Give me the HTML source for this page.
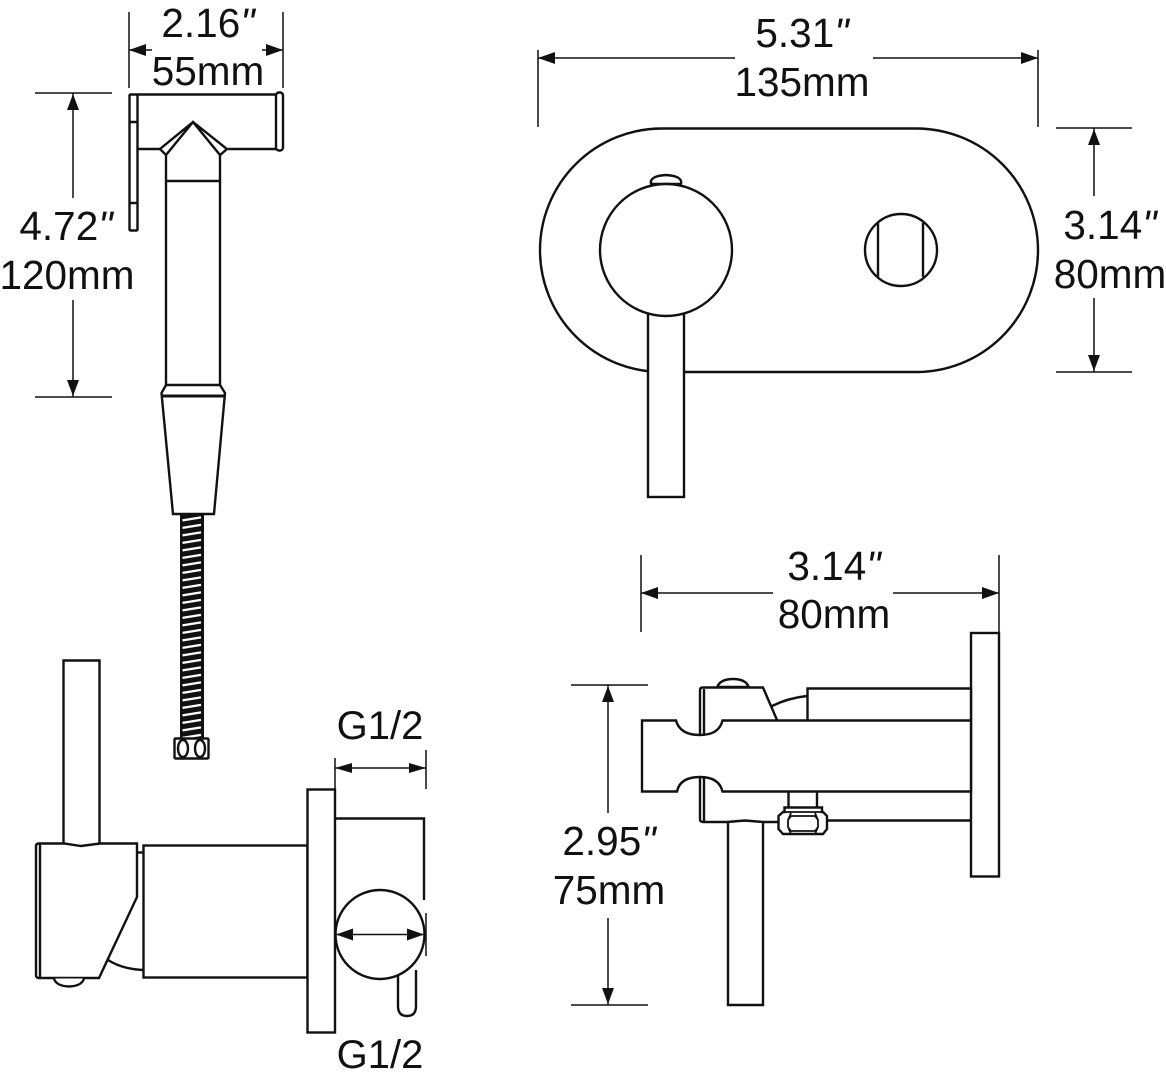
<!DOCTYPE html>
<html><head><meta charset="utf-8"><style>
html,body{margin:0;padding:0;background:#fff;overflow:hidden}
svg{display:block}
text{font-family:"Liberation Sans",sans-serif;font-size:40.5px;fill:#111;text-anchor:middle}
.q{font-style:italic}
.l{fill:none;stroke:#111;stroke-width:2.4}
.w{fill:#fff;stroke:#111;stroke-width:2.4}
.d{fill:none;stroke:#111;stroke-width:1.5}
.a{fill:#111;stroke:none}
</style></head><body>
<svg width="1166" height="1074" viewBox="0 0 1166 1074" xmlns="http://www.w3.org/2000/svg">
<defs>
<pattern id="h" width="24" height="7.5" patternUnits="userSpaceOnUse" x="180" y="515">
<rect width="24" height="7.5" fill="#111"/>
<line x1="2.500" y1="5.400" x2="21" y2="2.400" stroke="#fff" stroke-width="2.300"/>
</pattern>
</defs>

<!-- top-left dimensions -->
<path class="d" d="M129 12V88M283 12V88M129 50H152M262 50H283M35 93H112M35 397H112M73 93V198M73 300V397"/>
<path class="a" d="M129 50l17-6v12zM283 50l-17-6v12zM73 94l-6 16h12zM73 396l-6-16h12z"/>
<text x="208" y="37">2.16<tspan class="q">"</tspan></text>
<text x="208" y="85">55mm</text>
<text x="66" y="240">4.72<tspan class="q">"</tspan></text>
<text x="67" y="289">120mm</text>

<!-- sprayer -->
<path class="l" d="M137 94.500H276M138 149H160M228 149H276"/>
<rect class="w" x="129.500" y="94.500" width="8" height="136" rx="1"/>
<path class="l" d="M130 122H137M130 203H137"/>
<rect class="w" x="276" y="92.500" width="7" height="58" rx="3"/>
<path class="l" d="M193 122L160 149L166 155L193 122L220 155L227 149L193 122"/>
<path class="l" d="M166 155V386M220 155V386M166 181H220"/>
<path class="l" d="M166 385H220L225 393L214 514H173L161.500 393Z"/>
<path class="l" style="stroke-width:3" d="M162 396H225"/>
<rect x="180" y="515" width="24" height="224" fill="url(#h)"/>
<rect class="w" x="174.500" y="738.500" width="34" height="20" rx="1"/>
<ellipse class="l" cx="183" cy="748.500" rx="5" ry="8.500"/>
<ellipse class="l" cx="200" cy="748.500" rx="5" ry="8.500"/>

<!-- bottom-left view -->
<path class="l" d="M63.500 843V660.500H99.500V843"/>
<path class="w" d="M39 843.500H64L81 846L100 843.500H137V897L99 978H39Q36 978 36 975V846Q36 843.500 39 843.500Z"/>
<path class="l" d="M40 844V978"/>
<path class="l" d="M137 852.500H143"/>
<path class="l" d="M108 960Q122 969 143 970"/>
<path class="w" d="M54 978.500Q56 986 69 986.500Q82 986 84 978.500"/>
<rect class="w" x="143.500" y="845.500" width="164" height="132"/>
<rect class="w" x="307.500" y="789.500" width="27.500" height="243"/>
<path class="l" d="M335 818.500H424V900"/>
<path class="w" d="M398 975V1006Q398 1016 407 1016Q416 1016 416 1006V970"/>
<circle class="w" cx="380" cy="934.500" r="44.500"/>
<path class="d" d="M336 934.500H424M426 913V956"/>
<path class="a" d="M336 934.500l17-6v12zM424 934.500l-17-6v12z"/>
<path class="d" d="M335 758V789M426 750V789M335 768H426"/>
<path class="a" d="M335 768l17-5v10zM426 768l-17-5v10z"/>
<text x="380" y="739" style="font-size:40px">G1/2</text>
<text x="380" y="1068" style="font-size:40px">G1/2</text>

<!-- top-right view -->
<path class="d" d="M538 50V127M1038 50V127M538 58H735M873 58H1038M1056 128H1132M1056 372H1132M1094 128V196M1094 298V372"/>
<path class="a" d="M538 58l17-6v12zM1038 58l-17-6v12zM1094 129l-6 16h12zM1094 371l-6-16h12z"/>
<text x="802" y="47">5.31<tspan class="q">"</tspan></text>
<text x="802" y="96">135mm</text>
<text x="1110" y="239">3.14<tspan class="q">"</tspan></text>
<text x="1110" y="288">80mm</text>
<rect class="w" x="540" y="128.500" width="498" height="243.500" rx="122" ry="122"/>
<rect class="w" x="648" y="312" width="36" height="185"/>
<path class="w" d="M651 184Q649 176 666 175Q683 176 681 184Z"/>
<circle class="w" cx="666" cy="250" r="66"/>
<circle class="w" cx="901" cy="250" r="36"/>
<path class="l" d="M878 223V277M923 223V277"/>

<!-- bottom-right view -->
<path class="d" d="M641 555V632M999 555V632M641 593H773M893 593H999M571 685H648M571 1005H648M608 685V813M608 918V1005"/>
<path class="a" d="M641 593l17-6v12zM999 593l-17-6v12zM608 686l-6 16h12zM608 1004l-6-16h12z"/>
<text x="834" y="580">3.14<tspan class="q">"</tspan></text>
<text x="834" y="628">80mm</text>
<text x="609" y="855">2.95<tspan class="q">"</tspan></text>
<text x="609" y="904">75mm</text>
<rect class="w" x="971" y="633" width="28" height="243.500"/>
<path class="w" d="M807.500 720V688.500H971V720"/>
<path class="l" d="M772 706Q788 698 807 696"/>
<path class="w" d="M717 687.500Q720 679 733 679Q746 679 749 687.500"/>
<path class="l" style="stroke-width:3.500" d="M718 687.500H748"/>
<path d="M700 735V690Q700 687.500 703 687.500H763L777 720H700Z" fill="#fff"/>
<path class="l" d="M700 735V690Q700 687.500 703 687.500H763L777 720"/>
<path class="l" d="M700 777V819Q700 822 703 822H727L745 820.500L763 822H778M827 820.500H971"/>
<path class="l" d="M704 689V735M704 777V821"/>
<path class="w" d="M728 823V1005H763V823"/>
<path class="w" d="M642 720.500H676Q680 735 700 735Q719 735 722.500 720.500H971V791.500H722.500Q719 777 700 777Q680 777 677 791.500H642Z"/>
<path class="l" d="M788.500 792V808M817 792V808"/>
<path class="w" d="M784.500 807.500H822V812H823L827 816V829L823 834H783L778.500 829V816L783 812H784.500Z"/>
<path class="l" style="stroke-width:1.800" d="M784 812H823M791 813L788 820V827L791 834M815 813L818 820V827L815 834M788 820L791 816H815L818 820M788 827L791 831H815L818 827"/>
</svg>
</body></html>
